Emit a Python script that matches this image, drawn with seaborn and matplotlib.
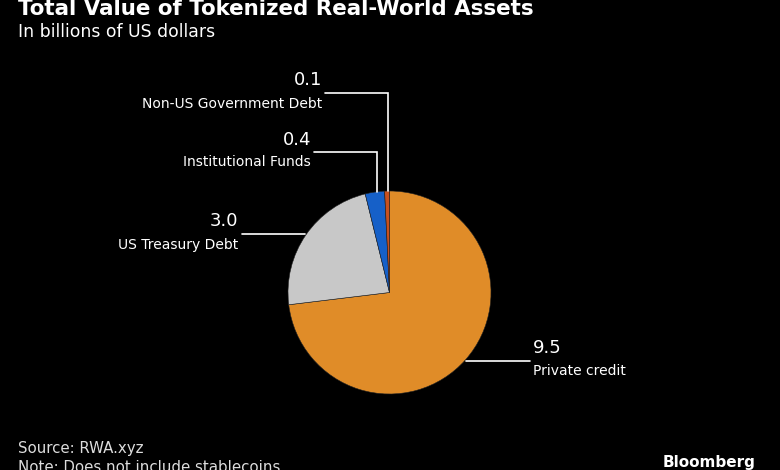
import matplotlib
matplotlib.use("Agg")
import matplotlib.pyplot as plt
import seaborn as sns
import numpy as np

# Data
categories = ["Private credit", "US Treasury Debt", "Institutional Funds", "Non-US Government Debt"]
values = [9.5, 3.0, 0.4, 0.1]
value_labels = ["9.5", "3.0", "0.4", "0.1"]
colors = ["#E08C28", "#C8C8C8", "#1660C8", "#C8501E"]

sns.set_theme(style="dark")
plt.rcParams["font.family"] = ["DejaVu Sans"]

W, H = 780, 470
fig = plt.figure(figsize=(W / 100, H / 100), dpi=100, facecolor="black")
ax = fig.add_axes([0, 0, 1, 1])
ax.set_facecolor("black")

def py(y):
    # pixel row -> data y
    return H - y

cx, cy, r = 389.5, 292.5, 101.5
wedges, _ = ax.pie(values, colors=colors, startangle=90, counterclock=False,
                   center=(cx, py(cy)), radius=r, frame=True,
                   wedgeprops=dict(linewidth=0.4, edgecolor="#222222"))
ax.set_xlim(0, W)
ax.set_ylim(0, H)
ax.axis("off")

# label layout in pixel rows
layout = {
    "Private credit": dict(tx=533, line_y=361, val_y=348, lab_y=371, ha="left"),
    "US Treasury Debt": dict(tx=238, line_y=234, val_y=221, lab_y=245, ha="right"),
    "Institutional Funds": dict(tx=311, line_y=152, val_y=140, lab_y=162, ha="right", vx=377),
    "Non-US Government Debt": dict(tx=322, line_y=93, val_y=80, lab_y=104, ha="right", vx=388),
}

lc = "white"
for w, cat, vl in zip(wedges, categories, value_labels):
    L = layout[cat]
    if "vx" in L:
        vx = L["vx"]
        top = cy - np.sqrt(r ** 2 - (vx - cx) ** 2)
        ax.plot([L["tx"] + 3, vx, vx], [py(L["line_y"]), py(L["line_y"]), py(top)],
                color=lc, lw=1.2, solid_joinstyle="miter")
    else:
        dy = L["line_y"] - cy
        edge_dx = np.sqrt(r ** 2 - dy ** 2)
        if L["ha"] == "left":
            x0, x1 = cx + edge_dx + 2, L["tx"] - 3
        else:
            x0, x1 = L["tx"] + 4, cx - edge_dx - 2
        ax.plot([x0, x1], [py(L["line_y"]), py(L["line_y"])], color=lc, lw=1.2)
    ax.text(L["tx"], py(L["val_y"]), vl, color="white", fontsize=13,
            ha=L["ha"], va="center")
    ax.text(L["tx"], py(L["lab_y"]), cat, color="white", fontsize=10,
            ha=L["ha"], va="center")

# titles and notes
ax.text(18, py(9), "Total Value of Tokenized Real-World Assets", color="white",
        fontsize=15.4, fontweight="bold", ha="left", va="center")
ax.text(18, py(32), "In billions of US dollars", color="white", fontsize=12.4,
        ha="left", va="center")
ax.text(18, py(448), "Source: RWA.xyz", color="#dddddd", fontsize=10.8,
        ha="left", va="center")
ax.text(18, py(467), "Note: Does not include stablecoins", color="#dddddd", fontsize=10.8,
        ha="left", va="center")
ax.text(755, py(463), "Bloomberg", color="white", fontsize=11, fontweight="bold",
        ha="right", va="center")

fig.savefig("out.png", dpi=100, facecolor="black")
